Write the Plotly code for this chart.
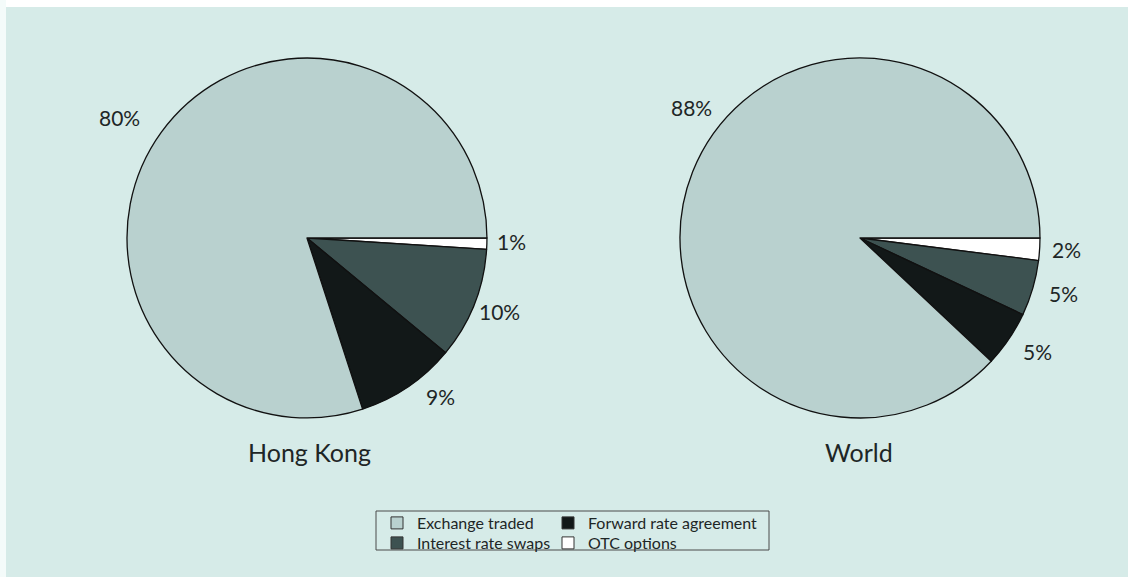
import plotly.graph_objects as go

# Shares of derivatives turnover by instrument (clockwise from 3 o'clock)
instruments = ["OTC options", "Interest rate swaps", "Forward rate agreement", "Exchange traded"]
hong_kong = [1, 10, 9, 80]
world = [2, 5, 5, 88]
regions = ["Hong Kong", "World"]

colors = ["#ffffff", "#3d5251", "#121818", "#b9d1cf"]
bg = "#d6ebe8"
ink = "#1e2626"
font_family = "Lato, 'Open Sans', sans-serif"

W, H = 1128, 577

# Pixel anchors for the percentage labels, per region, in slice order
label_spots = {
    "Hong Kong": [(511, 241), (500, 311), (440, 396), (119, 117)],
    "World": [(1066, 249), (1063, 293), (1037, 351), (691, 107)],
}
title_spots = {"Hong Kong": (309, 452), "World": (859, 452)}

fig = go.Figure()

domains = [dict(x=[0.1126, 0.4317], y=[0.2756, 0.8995]),
           dict(x=[0.6028, 0.9220], y=[0.2756, 0.8995])]

annotations = []
for name, vals, dom in zip(regions, [hong_kong, world], domains):
    fig.add_trace(go.Pie(
        labels=instruments,
        values=vals,
        textinfo="none",
        sort=False,
        direction="clockwise",
        rotation=90,
        marker=dict(colors=colors, line=dict(color="#111", width=1.3)),
        domain=dom,
        showlegend=False,
        hoverinfo="label+percent",
        name=name,
    ))
    for v, (px, py) in zip(vals, label_spots[name]):
        annotations.append(dict(
            text=f"{v}%", x=px / W, y=1 - py / H, xref="paper", yref="paper",
            xanchor="center", yanchor="middle", showarrow=False,
            font=dict(size=21, color=ink, family=font_family)))
    tx, ty = title_spots[name]
    annotations.append(dict(
        text=name, x=tx / W, y=1 - ty / H, xref="paper", yref="paper",
        xanchor="center", yanchor="middle", showarrow=False,
        font=dict(size=25, color=ink, family=font_family)))

# Legend entries laid out as a 2x2 grid, one legend per cell
legend_cells = [
    ("Exchange traded", "legend", 377, 506),
    ("Forward rate agreement", "legend2", 548, 506),
    ("Interest rate swaps", "legend3", 377, 526),
    ("OTC options", "legend4", 548, 526),
]
for lab, leg, _, _ in legend_cells:
    c = colors[instruments.index(lab)]
    fig.add_trace(go.Bar(
        x=[None], y=[None], name=lab,
        marker=dict(color=c, line=dict(color="#333", width=1)),
        legend=leg, showlegend=True,
    ))

legend_layout = {}
for lab, leg, lx, ly in legend_cells:
    legend_layout[leg] = dict(
        x=lx / W, y=1 - ly / H, orientation="v", yanchor="top", xanchor="left",
        bgcolor="rgba(0,0,0,0)", borderwidth=0,
        font=dict(size=16, color=ink, family=font_family),
    )

fig.update_layout(
    width=W, height=H,
    margin=dict(l=0, r=0, t=0, b=0),
    paper_bgcolor=bg,
    plot_bgcolor=bg,
    xaxis=dict(visible=False, range=[0, 1]),
    yaxis=dict(visible=False, range=[0, 1]),
    annotations=annotations,
    shapes=[
        # white page edge along top and left
        dict(type="rect", xref="paper", yref="paper", x0=0, x1=1, y0=1 - 7 / H, y1=1,
             fillcolor="#ffffff", line=dict(width=0), layer="below"),
        dict(type="rect", xref="paper", yref="paper", x0=0, x1=6 / W, y0=0, y1=1,
             fillcolor="#f4fbfa", line=dict(width=0), layer="below"),
        # legend frame
        dict(type="rect", xref="paper", yref="paper",
             x0=376 / W, x1=769 / W, y0=1 - 550 / H, y1=1 - 511 / H,
             line=dict(color="#4a4a4a", width=1), fillcolor="rgba(0,0,0,0)", layer="above"),
    ],
    **legend_layout,
)

fig.write_html("out.html")
